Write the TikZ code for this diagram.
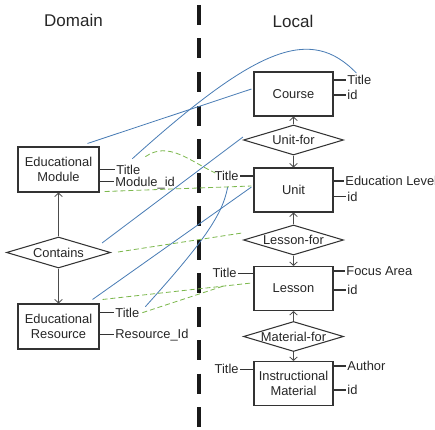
\documentclass[tikz,border=0pt]{standalone}
\usepackage{fontspec}
\setmainfont{Liberation Sans}
\usetikzlibrary{calc,arrows.meta,shapes.geometric,positioning}

\definecolor{mapblue}{HTML}{4A7DB5}
\definecolor{mapgreen}{HTML}{7DB84E}
\definecolor{boxgray}{HTML}{333333}

\tikzset{
    entity/.style={draw=boxgray, line width=0.9pt, minimum width=23.7mm, minimum height=13.2mm,
        align=center, inner sep=1pt, text=black!85, font=\fontsize{11}{12.8}\selectfont},
    rel/.style={diamond, draw=boxgray, line width=0.9pt, aspect=3.3, inner sep=0pt,
        minimum width=30mm, minimum height=9mm, text=black!85, font=\fontsize{11}{12.8}\selectfont},
    attr/.style={inner sep=1pt, text height=8pt, text depth=0pt, text=black!85,
        font=\fontsize{11}{12.8}\selectfont},
    attrline/.style={boxgray, line width=0.9pt},
    card/.style={-{Straight Barb[length=3pt, width=6.5pt]}, black!70, line width=0.7pt},
    bluemap/.style={mapblue, line width=0.7pt},
    greenmap/.style={mapgreen, line width=0.7pt, dash pattern=on 4.3pt off 2.5pt},
    header/.style={text=black!85, font=\fontsize{14.5}{17}\selectfont}
}

\begin{document}
\begin{tikzpicture}[x=0.3mm, y=0.3mm]
    \useasboundingbox (0,0) rectangle (435,429);

    % headers and the split between the two sides
    \node[header] at (73.5,409) (hdom) {Domain};
    \node[header] at (293,408) (hloc) {Local};
    \draw[black!90, line width=3.4pt, dash pattern=on 6mm off 4.05mm] (199,424) -- (199,2);

    % local side
    \node[entity] at (293.5,335) (crs) {Course};
    \node[rel] at (293.5,289) (uf) {Unit-for};
    \node[entity] at (293.5,239) (unit) {Unit};
    \node[rel] at (293.5,189) (lf) {Lesson-for};
    \node[entity] at (293.5,140.5) (les) {Lesson};
    \node[rel] at (293.5,92.5) (mf) {Material-for};
    \node[entity] at (293.5,45.5) (ins) {Instructional\\Material};

    % domain side
    \node[entity, minimum width=24.3mm, minimum height=13.5mm] at (58.5,259.5) (mod) {Educational\\Module};
    \node[rel, minimum width=31.2mm, minimum height=9.3mm] at (58.5,176.5) (cnt) {Contains};
    \node[entity, minimum width=24.3mm, minimum height=13.5mm] at (58.5,102.5) (res) {Educational\\Resource};

    % attributes
    \node[attr, anchor=west] at (346,349) (crsT) {Title};
    \node[attr, anchor=west] at (346,334) (crsI) {id};
    \node[attr, anchor=west] at (344,248) (unitE) {Education Level};
    \node[attr, anchor=west] at (346,232.3) (unitI) {id};
    \node[attr, anchor=east] at (240,253) (unitT) {Title};
    \node[attr, anchor=west] at (345,158) (lesF) {Focus Area};
    \node[attr, anchor=west] at (346,139) (lesI) {id};
    \node[attr, anchor=east] at (238,155.7) (lesT) {Title};
    \node[attr, anchor=west] at (346,63) (insA) {Author};
    \node[attr, anchor=west] at (346,39) (insI) {id};
    \node[attr, anchor=east] at (240,59.7) (insT) {Title};
    \node[attr, anchor=west] at (115,259.3) (modT) {Title};
    \node[attr, anchor=west] at (114,247.3) (modI) {Module\_id};
    \node[attr, anchor=west] at (114,116.3) (resT) {Title};
    \node[attr, anchor=west] at (114,94.7) (resI) {Resource\_Id};

    \foreach \b/\a in {crs/crsT, crs/crsI, unit/unitE, unit/unitI, les/lesF, les/lesI,
                       ins/insA, ins/insI, mod/modT, mod/modI, res/resT, res/resI}
        \draw[attrline] (\b.east |- \a.west) -- (\a.west);
    \foreach \b/\a in {unit/unitT, les/lesT, ins/insT}
        \draw[attrline] (\a.east) -- (\b.west |- \a.east);

    % relationships
    \foreach \r/\up/\dn in {uf/crs/unit, lf/unit/les, mf/les/ins, cnt/mod/res} {
        \draw[card] (\r.north) -- (\up.south);
        \draw[card] (\r.south) -- (\dn.north);
    }

    % mappings domain -> local
    \draw[bluemap] ($(mod.north east)+(-12,3)$) -- ($(crs.west)+(-2,5)$);
    \draw[bluemap] ($(modT)+(4,11)$) to[out=42, in=134, out looseness=1.8, in looseness=0.7] ($(crsT)+(-3,7)$);
    \draw[bluemap] ($(cnt.east)+(-9,9.5)$) -- ($(uf.west)+(0,3)$);
    \draw[bluemap] ($(res.north east)+(-7,4)$) -- ($(unit.west)+(-2,3)$);
    \draw[bluemap] ($(resT)+(18,6)$) to[out=48, in=-100, out looseness=1.5, in looseness=0.5] ($(unitT)+(1,-11)$);

    \draw[greenmap] ($(modT)+(17,13)$) to[out=35, in=155] ($(unitT.west)+(2,3)$);
    \draw[greenmap] ($(mod.south east)+(5,1)$) -- ($(unit.west)+(-2,4)$);
    \draw[greenmap] ($(cnt.east)+(7,0.5)$) -- ($(lf.west)+(-1,7)$);
    \draw[greenmap] ($(res.north east)+(3,4)$) -- ($(les.west)+(-2,5.5)$);
    \draw[greenmap] ($(resT)+(15,0)$) -- ($(lesT)+(1,-12)$);
\end{tikzpicture}
\end{document}
